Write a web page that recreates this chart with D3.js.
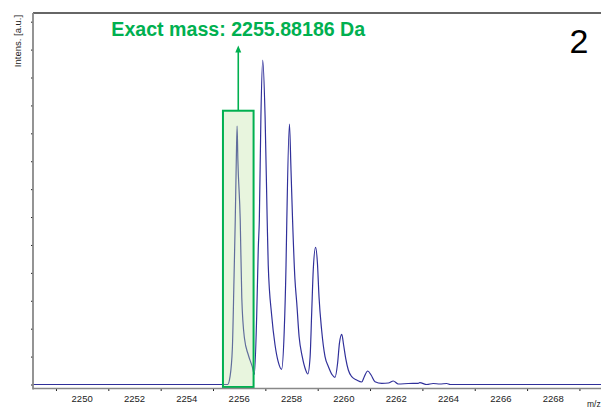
<!DOCTYPE html>
<html>
<head>
<meta charset="utf-8">
<script src="https://cdn.jsdelivr.net/npm/d3@7"></script>
<style>
  body { margin: 0; background: #fff; }
  svg { display: block; font-family: "Liberation Sans", Arial, sans-serif; }
</style>
</head>
<body>
<div id="chart"></div>
<script>
// spectrum: m/z and intensity [a.u.]
const mz = [2248.1, 2255.56, 2255.65, 2255.74, 2255.80, 2255.85, 2255.89, 2255.92, 2255.95, 2256.04, 2256.10, 2256.20, 2256.35, 2256.50, 2256.58,
  2256.67, 2256.73, 2256.77, 2256.83, 2256.90, 2256.99, 2257.07, 2257.11, 2257.24, 2257.37, 2257.49, 2257.62,
  2257.72, 2257.79, 2257.82, 2257.92, 2257.98, 2258.04, 2258.13, 2258.20, 2258.29, 2258.41, 2258.54, 2258.62,
  2258.71, 2258.77, 2258.83, 2258.92, 2258.99, 2259.05, 2259.15, 2259.28, 2259.41, 2259.56, 2259.66,
  2259.76, 2259.83, 2259.92, 2259.99, 2260.07, 2260.17, 2260.30, 2260.49, 2260.68,
  2260.78, 2260.91, 2261.04, 2261.19, 2261.45, 2261.70, 2261.89, 2262.08, 2262.46, 2262.84, 2262.90,
  2263.17, 2263.41, 2263.67, 2263.93, 2264.06, 2270];
const intensity = [0, 0, 279, 1308, 3683, 5894, 8044, 9262, 8044, 5894, 3099, 1666, 1057, 638, 365,
  2490, 4891, 5894, 9595, 11627, 9595, 5894, 4282, 2490, 1415, 817, 545,
  1892, 4282, 5894, 9334, 7685, 5894, 3780, 2920, 1713, 996, 520, 376,
  996, 2551, 4102, 4916, 4343, 3146, 1953, 996, 638, 340, 258,
  760, 1476, 1799, 1415, 939, 520, 279, 161, 90,
  279, 484, 340, 100, 43, 54, 125, 18, 36, 43, 65,
  0, 36, 18, 36, 0, 0];

const xTickLabels = [2250, 2252, 2254, 2256, 2258, 2260, 2262, 2264, 2266, 2268];
const xMinorTicks = [2249, 2251, 2253, 2255, 2257, 2259, 2261, 2263, 2265, 2267, 2269];
const yTicks = d3.range(0, 14000, 1000);

// annotation: isolated monoisotopic peak
const exactMass = "Exact mass: 2255.88186 Da";
const boxRange = [2255.38, 2256.55];
const boxTop = 9810;
const panelLabel = "2";

const width = 601;
const height = 408;
const green = "#00b050";

const x = d3.scaleLinear()
  .domain([2248, 2270])
  .range([29.8, 605.6]);

const y = d3.scaleLinear()
  .domain([0, 13000])
  .range([384.5, 21.7]);

const axisLeftX = 33;
const axisBottomY = 388.5;
const frameTop = 13;

const data = mz.map((m, i) => [m, intensity[i]]);

const svg = d3.select("#chart")
  .append("svg")
  .attr("width", width)
  .attr("height", height);

svg.append("defs").append("clipPath")
  .attr("id", "plot")
  .append("rect")
  .attr("x", axisLeftX)
  .attr("y", frameTop)
  .attr("width", width - axisLeftX)
  .attr("height", axisBottomY - frameTop);

const line = d3.line()
  .curve(d3.curveMonotoneX)
  .x(d => x(d[0]))
  .y(d => y(d[1]));

svg.append("path")
  .datum(data)
  .attr("clip-path", "url(#plot)")
  .attr("fill", "none")
  .attr("stroke", "#30309a")
  .attr("stroke-width", 1.2)
  .attr("stroke-linejoin", "round")
  .attr("d", line);

// highlight box over first peak
svg.append("rect")
  .attr("x", x(boxRange[0]))
  .attr("y", y(boxTop))
  .attr("width", x(boxRange[1]) - x(boxRange[0]))
  .attr("height", y(0) + 2.5 - y(boxTop))
  .attr("fill", "rgb(190,225,160)")
  .attr("fill-opacity", 0.35)
  .attr("stroke", green)
  .attr("stroke-width", 2);

const arrowX = (x(boxRange[0]) + x(boxRange[1])) / 2;

svg.append("line")
  .attr("x1", arrowX)
  .attr("x2", arrowX)
  .attr("y1", y(boxTop))
  .attr("y2", 51)
  .attr("stroke", green)
  .attr("stroke-width", 1.6);

svg.append("path")
  .attr("d", `M${arrowX},45.5 L${arrowX - 3},52.5 L${arrowX + 3},52.5 Z`)
  .attr("fill", green);

svg.append("text")
  .attr("x", arrowX)
  .attr("y", 35.5)
  .attr("text-anchor", "middle")
  .attr("font-size", 19.6)
  .attr("font-weight", "bold")
  .attr("fill", green)
  .text(exactMass);

svg.append("text")
  .attr("x", 579)
  .attr("y", 53)
  .attr("text-anchor", "middle")
  .attr("font-size", 34)
  .attr("fill", "#000")
  .text(panelLabel);

// frame top
svg.append("line")
  .attr("x1", axisLeftX)
  .attr("x2", width)
  .attr("y1", frameTop)
  .attr("y2", frameTop)
  .attr("stroke", "#333")
  .attr("stroke-width", 1.5);

// y axis
const yAxis = g => g
  .attr("transform", `translate(${axisLeftX},0)`)
  .call(d3.axisLeft(y).tickValues(yTicks).tickSize(2).tickFormat(""))
  .call(g => g.select(".domain").remove())
  .call(g => g.selectAll(".tick line").attr("stroke", "#222"));

svg.append("g").call(yAxis);

svg.append("line")
  .attr("x1", axisLeftX)
  .attr("x2", axisLeftX)
  .attr("y1", frameTop)
  .attr("y2", axisBottomY + 1)
  .attr("stroke", "#888")
  .attr("stroke-width", 1.8);

// x axis: minor ticks at odd values, labels at even values
const xAxis = g => g
  .attr("transform", `translate(0,${axisBottomY})`)
  .call(d3.axisBottom(x).tickValues(xMinorTicks).tickSize(2.5).tickFormat(""))
  .call(g => g.select(".domain").remove())
  .call(g => g.selectAll(".tick line").attr("stroke", "#222"));

svg.append("g").call(xAxis);

svg.append("line")
  .attr("x1", axisLeftX)
  .attr("x2", width)
  .attr("y1", axisBottomY)
  .attr("y2", axisBottomY)
  .attr("stroke", "#888")
  .attr("stroke-width", 1.5);

svg.append("g")
  .selectAll("text")
  .data(xTickLabels)
  .join("text")
    .attr("x", d => x(d))
    .attr("y", 401.8)
    .attr("text-anchor", "middle")
    .attr("font-size", 9.5)
    .attr("fill", "#222")
    .text(d => d);

svg.append("text")
  .attr("x", 587)
  .attr("y", 406.5)
  .attr("font-size", 8.5)
  .attr("fill", "#222")
  .text("m/z");

svg.append("text")
  .attr("transform", "translate(20.5,41) rotate(-90)")
  .attr("text-anchor", "middle")
  .attr("font-size", 9.5)
  .attr("fill", "#222")
  .text("Intens. [a.u.]");
</script>
</body>
</html>
